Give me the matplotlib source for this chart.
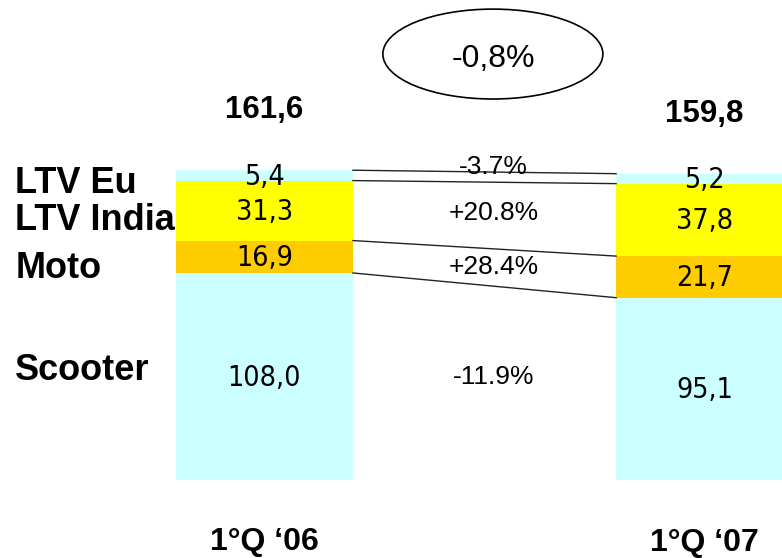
import matplotlib
matplotlib.use("Agg")
import matplotlib.pyplot as plt
import matplotlib.patches as patches
from matplotlib import font_manager as fm

# data
periods = ["1°Q ‘06", "1°Q ‘07"]
segments = ["Scooter", "Moto", "LTV India", "LTV Eu"]
q06 = [108.0, 16.9, 31.3, 5.4]
q07 = [95.1, 21.7, 37.8, 5.2]
totals = ["161,6", "159,8"]
changes = ["-11.9%", "+28.4%", "+20.8%", "-3.7%"]
total_change = "-0,8%"

colors = ["#CCFFFF", "#FFCC00", "#FFFF00", "#CCFFFF"]

plt.rcParams['font.family'] = ['Liberation Sans', 'DejaVu Sans']

# values are in a narrow face in the original; use one if there is one
fonts = fm.fontManager.ttflist
if any(f.name == 'Liberation Sans Narrow' for f in fonts):
    val_font = dict(family=['Liberation Sans Narrow'], fontsize=22)
elif any(f.name == 'DejaVu Sans' and f.stretch == 'condensed' for f in fonts):
    val_font = dict(family=['DejaVu Sans'], fontstretch='condensed', fontsize=20.5)
else:
    val_font = dict(family=['Liberation Sans'], fontsize=20)

fig = plt.figure(figsize=(7.82, 5.58), dpi=100)
ax = fig.add_axes([0, 0, 1, 1])
ax.set_xlim(-0.601, 1.176)
ax.set_ylim(-40.7, 250.4)
ax.axis("off")

x = [0, 1]
w = 0.402

def fmt(v):
    return ("%.1f" % v).replace(".", ",")

bottoms = [0, 0]
edges = [[0.0], [0.0]]
for i, seg in enumerate(segments):
    vals = [q06[i], q07[i]]
    ax.bar(x, vals, width=w, bottom=bottoms, color=colors[i], linewidth=0)
    for j in range(2):
        ax.text(x[j], bottoms[j] + vals[j] / 2 - 0.8, fmt(vals[j]), ha="center", va="center", **val_font)
        edges[j].append(bottoms[j] + vals[j])
    bottoms = [bottoms[0] + vals[0], bottoms[1] + vals[1]]

# connecting lines between the two bars
for k in range(1, len(edges[0])):
    ax.plot([x[0] + w / 2, x[1] - w / 2], [edges[0][k], edges[1][k]],
            color="#222222", linewidth=1)

# change labels in the middle
offs = [3, 0, 1, 5]
for i, c in enumerate(changes):
    m1 = edges[0][i] + q06[i] / 2
    m2 = edges[1][i] + q07[i] / 2
    ax.text(0.52, (m1 + m2) / 2 + offs[i], c, ha="center", va="center", fontsize=19)

# segment names on the left (baselines)
name_y = [52.2, 105.4, 130.4, 149.7]
for i, seg in enumerate(segments):
    ax.text(-0.566, name_y[i], seg, ha="left", va="baseline", fontsize=26, fontweight="bold")

# totals and period labels
for j in range(2):
    ax.text(x[j], bottoms[j] + 27, totals[j], ha="center", va="baseline",
            fontsize=22.5, fontweight="bold")
ax.text(x[0], -36.5, periods[0], ha="center", va="baseline", fontsize=23, fontweight="bold")
ax.text(x[1], -37.0, periods[1], ha="center", va="baseline", fontsize=23, fontweight="bold")

# total change bubble
ell = patches.Ellipse((0.519, 222.2), 0.5, 46.9, facecolor="white", edgecolor="black", linewidth=1.2)
ax.add_patch(ell)
ax.text(0.519, 219.5, total_change, ha="center", va="center", fontsize=23)

fig.savefig("out.png", dpi=100)
